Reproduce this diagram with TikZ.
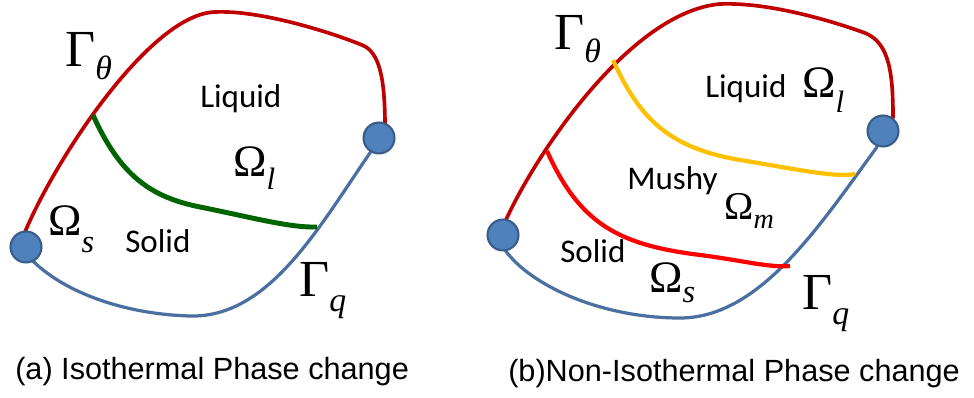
\documentclass[tikz,border=0pt]{standalone}
\usepackage{fontspec}
\setmainfont{Carlito}
\newfontfamily\capfont{Liberation Sans}
\newfontfamily\symfont{Liberation Serif}
\newcommand\lowsub[3][23]{\raisebox{-#2pt}{\fontsize{#1}{#1}\selectfont\itshape #3}}
\definecolor{edgeblue}{HTML}{4A6FA0}
\definecolor{hotred}{HTML}{C00000}
\definecolor{frontgreen}{HTML}{006400}
\definecolor{frontyellow}{HTML}{FFC000}
\definecolor{frontred}{HTML}{FF0000}
\definecolor{dotfill}{HTML}{4F81BD}
\definecolor{dotline}{HTML}{385D8A}
\tikzset{
	edge/.style={edgeblue,line width=2.3pt,line cap=round},
	hotedge/.style={hotred,line width=2.6pt,line cap=round},
	front/.style={line width=3pt},
	dot/.style={circle,draw=dotline,fill=dotfill,line width=1.5pt,minimum size=22pt,inner sep=0pt},
	phase/.style={font=\fontsize{23.5}{24}\selectfont,anchor=base west,inner sep=0pt},
	bigsym/.style={font=\symfont\fontsize{37}{37}\selectfont,anchor=base west,inner sep=0pt},
	omega/.style={font=\symfont\fontsize{32}{32}\selectfont,anchor=base west,inner sep=0pt},
	caption/.style={font=\capfont\fontsize{21.8}{22}\selectfont,anchor=base west,inner sep=0pt}
}
\begin{document}
\begin{tikzpicture}[x=0.025cm,y=-0.025cm]
	\useasboundingbox (0,0) rectangle (974,398);
	
	% (a) isothermal
	\draw[edge] (372,150) .. controls (320,225) and (270,318) .. (190,316)
		.. controls (120,314) and (60,290) .. (30,258);
	\draw[hotedge] (25,232) .. controls (55,160) and (150,14) .. (215,12)
		.. controls (260,10) and (330,32) .. (362,45)
		.. controls (380,52) and (385,80) .. (385,127);
	\draw[front,frontgreen,line width=3.5pt] (93,115) .. controls (120,175) and (150,197) .. (200,207)
		.. controls (250,217) and (290,228) .. (317,227);
	
	\node[dot] (a left) at (26,247) {};
	\node[dot] (a right) at (379,138) {};
	
	\node[phase] (a liquid) at (200,108) {Liquid};
	\node[phase] (a solid) at (125,253) {Solid};
	\node[bigsym] (a gt) at (65,67) {Γ\lowsub[24]{9}{θ}};
	\node[omega] (a ol) at (233,177) {Ω\lowsub[22]{9}{l}};
	\node[omega] (a os) at (48,236) {Ω\lowsub[23]{12}{s}};
	\node[bigsym] (a gq) at (299,297) {Γ\lowsub[24]{10}{q}};
	
	% (b) non-isothermal
	\draw[edge] (877,147) .. controls (820,225) and (760,318) .. (680,318)
		.. controls (600,318) and (530,285) .. (505,250);
	\draw[hotedge] (505,222) .. controls (535,155) and (630,12) .. (720,4)
		.. controls (770,2) and (835,22) .. (865,33)
		.. controls (890,43) and (893,75) .. (893,118);
	\draw[front,frontyellow] (613,60) .. controls (640,120) and (670,148) .. (740,160)
		.. controls (790,168) and (835,178) .. (855,174);
	\draw[front,frontred] (547,151) .. controls (580,225) and (620,245) .. (700,255)
		.. controls (740,260) and (770,268) .. (790,266);
	
	\node[dot] (b left) at (503,235) {};
	\node[dot] (b right) at (883,131) {};
	
	\node[phase] (b liquid) at (705,98) {Liquid};
	\node[phase] (b mushy) at (627,190) {Mushy};
	\node[phase] (b solid) at (560,263) {Solid};
	\node[bigsym] (b gt) at (554,50) {Γ\lowsub[24]{9}{θ}};
	\node[omega] (b ol) at (802,98) {Ω\lowsub[22]{10}{l}};
	\node[omega,font=\symfont\fontsize{28}{28}\selectfont] (b om) at (724,220) {Ω\lowsub[20]{6}{m}};
	\node[omega] (b os) at (649,293) {Ω\lowsub[23]{7}{s}};
	\node[bigsym] (b gq) at (802,310) {Γ\lowsub[24]{10}{q}};
	
	\node[caption] (cap a) at (15,380) {(a) Isothermal Phase change};
	\node[caption] (cap b) at (508,382) {(b)Non-Isothermal Phase change};
\end{tikzpicture}
\end{document}
